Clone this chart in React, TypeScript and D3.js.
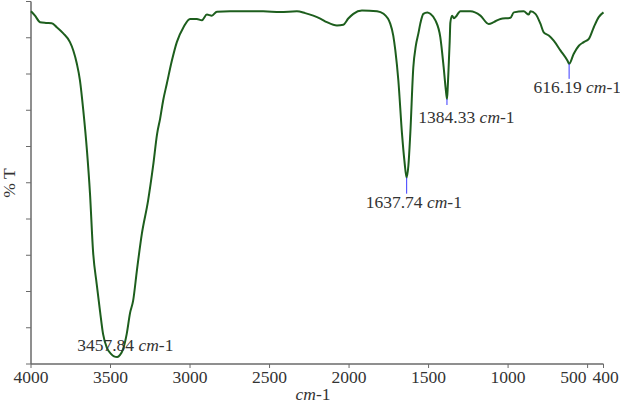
import React from "react";
import * as d3 from "d3";

// Wavenumber (cm-1) and transmittance (% T, arbitrary 0–100 scale)
const wavenumbers = [
  4000, 3975, 3943, 3906, 3870, 3838, 3797, 3755, 3734, 3712, 3692, 3671, 3648, 3629, 3610,
  3587, 3566, 3547, 3522, 3497, 3478, 3458, 3440, 3421, 3398, 3377, 3358, 3333, 3303, 3264,
  3232, 3207, 3188, 3169, 3146, 3114, 3083, 3041, 3000, 2957, 2926, 2894, 2863, 2831, 2748,
  2540, 2433, 2328, 2276, 2225, 2181, 2139, 2076, 2036, 2005, 1973, 1919, 1824, 1783, 1741,
  1722, 1709, 1690, 1667, 1652, 1638, 1627, 1615, 1596, 1580, 1564, 1552, 1533, 1508, 1489,
  1457, 1426, 1405, 1391, 1384, 1379, 1374, 1367, 1363, 1352, 1341, 1331, 1300, 1237, 1174,
  1122, 1090, 1048, 985, 964, 902, 870, 859, 828, 796, 776, 744, 713, 671, 627,
  616, 587, 555, 524, 492, 461, 430, 400,
];
const transmittance = [
  97.3, 96.1, 94.3, 94.1, 94.0, 92.9, 91.2, 88.8, 86.5, 82.9, 78.2, 69.9, 58.8, 47.0, 31.2,
  22.1, 14.6, 8.3, 4.4, 2.8, 2.1, 1.9, 2.5, 4.1, 8.3, 14.1, 17.4, 26.2, 35.9, 45.0,
  54.7, 63.5, 67.7, 72.7, 77.3, 83.7, 88.8, 92.9, 95.2, 95.2, 94.8, 96.4, 96.1, 97.2, 97.3,
  97.3, 97.1, 97.3, 96.8, 96.1, 95.3, 94.3, 93.4, 93.6, 95.3, 96.6, 97.5, 97.3, 96.6, 93.9,
  90.6, 86.5, 78.2, 63.5, 56.1, 51.4, 54.7, 63.5, 81.8, 87.8, 91.2, 93.9, 96.6, 97.0, 96.6,
  94.8, 90.1, 81.8, 75.4, 73.1, 76.8, 81.8, 89.2, 94.2, 96.1, 95.4, 95.7, 97.3, 97.3, 96.1,
  93.8, 94.3, 95.2, 95.5, 97.0, 97.3, 96.4, 97.3, 96.6, 93.8, 91.5, 90.6, 89.2, 86.5, 83.7,
  82.8, 85.6, 87.8, 88.8, 89.7, 92.9, 95.7, 97.0,
];

const xTicks = [4000, 3500, 3000, 2500, 2000, 1500, 1000, 500, 400];
const yTicks = [0, 10, 20, 30, 40, 50, 60, 70, 80, 90, 100];

const peakWavenumbers = [3457.84, 1637.74, 1384.33, 616.19];
const peakTransmittance = [1.9, 51.4, 73.1, 82.8];
const peakLabels = ["3457.84", "1637.74", "1384.33", "616.19"];

// label placement styles (pixel offsets relative to the peak point)
const peakStyle = [
  { dx: -40, lineLen: 0, baseline: -6 },
  { dx: -41, lineLen: 16, baseline: 30 },
  { dx: -28.6, lineLen: 6, baseline: 24 },
  { dx: -35.6, lineLen: 15, baseline: 29 },
];

const W = 620;
const H = 409;
const FONT = "Liberation Serif";
const FS = 17.5;

export default function App() {
  const x = d3.scaleLinear().domain([4000, 400]).range([31, 603.5]);
  const y = d3.scaleLinear().domain([0, 100]).range([364, 1.5]);

  const data = wavenumbers.map((w, i) => [w, transmittance[i]] as [number, number]);
  const line = d3
    .line<[number, number]>()
    .x((d) => x(d[0]))
    .y((d) => y(d[1]))
    .curve(d3.curveMonotoneX);

  const axisColor = "#6a6a6a";
  const textColor = "#333";
  const tStyle = { fontFamily: FONT, fontSize: FS } as React.CSSProperties;

  return (
    <svg
      width={W}
      height={H}
      style={{ position: "absolute", left: 0, top: 0, background: "#fff", fontFamily: FONT }}
    >
      {/* axes */}
      <line x1={x(4000)} x2={x(4000)} y1={y(100)} y2={y(0)} stroke={axisColor} strokeWidth={1.5} />
      <line x1={x(4000)} x2={x(400)} y1={y(0)} y2={y(0)} stroke={axisColor} strokeWidth={1.5} />
      {yTicks.map((t) => (
        <line key={"yt" + t} x1={x(4000) - 5} x2={x(4000)} y1={y(t)} y2={y(t)} stroke={axisColor} strokeWidth={1} />
      ))}
      {xTicks.map((t) => (
        <g key={"xt" + t}>
          <line x1={x(t)} x2={x(t)} y1={y(0)} y2={y(0) + 4} stroke={axisColor} strokeWidth={1} />
          <text
            x={t === 500 ? x(t) - 1 : x(t)}
            y={383}
            textAnchor={t === 500 ? "end" : t === 400 ? "start" : "middle"}
            dx={t === 400 ? -11 : 0}
            style={tStyle}
            fill={textColor}
          >
            {t}
          </text>
        </g>
      ))}

      {/* axis titles */}
      <text x={313} y={400} textAnchor="middle" style={tStyle} fill={textColor}>
        <tspan fontStyle="italic">cm</tspan>-1
      </text>
      <text transform="translate(15,183) rotate(-90)" textAnchor="middle" style={tStyle} fill={textColor}>
        % T
      </text>

      {/* spectrum */}
      <path d={line(data) || ""} fill="none" stroke="#1d5e1d" strokeWidth={2} strokeLinejoin="round" />

      {/* peak annotations */}
      {peakWavenumbers.map((w, i) => {
        const px = x(w);
        const py = y(peakTransmittance[i]);
        const s = peakStyle[i];
        return (
          <g key={"pk" + i}>
            {s.lineLen > 0 && (
              <line x1={px} x2={px} y1={py} y2={py + s.lineLen} stroke="#3a3aff" strokeWidth={1} />
            )}
            <text x={px + s.dx} y={py + s.baseline} style={tStyle} fill={textColor}>
              {peakLabels[i]} <tspan fontStyle="italic">cm</tspan>-1
            </text>
          </g>
        );
      })}
    </svg>
  );
}
